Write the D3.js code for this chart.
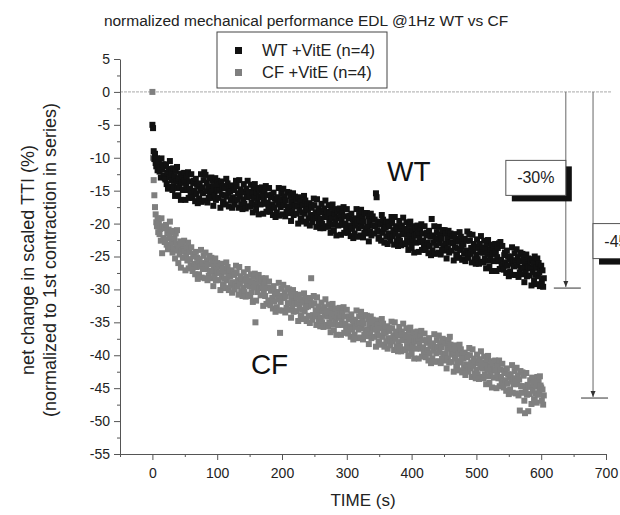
<!DOCTYPE html>
<html>
<head>
<meta charset="utf-8">
<script src="https://cdn.jsdelivr.net/npm/d3@7"></script>
<style>
  body { margin: 0; background: #fff; }
  svg { display: block; font-family: "Liberation Sans", Arial, sans-serif; }
  .axis path, .axis line { stroke: #555; }
  .axis text { fill: #222; font-size: 14px; }
</style>
</head>
<body>
<svg id="chart" width="620" height="515"></svg>
<script>
// recorded at 1 Hz: value i is the contraction at i seconds
var sampleInterval = 1;

// WT +VitE, net change (%), one row = 10 s
var wtValues = [
    -5.0, -5.5, -9.0, -10.2, -9.4, -10.8, -11.3, -10.1, -11.9, -11.0,
    -10.7, -12.1, -11.5, -13.0, -10.1, -11.8, -11.0, -12.7, -11.3, -13.1,
    -13.3, -11.0, -14.0, -12.3, -14.7, -11.7, -13.0, -10.5, -14.4, -12.2,
    -13.4, -14.9, -11.6, -14.3, -12.8, -15.8, -12.0, -13.6, -11.4, -14.6,
    -15.7, -13.1, -14.4, -12.4, -16.4, -13.8, -12.8, -14.9, -13.7, -12.3,
    -13.5, -16.4, -14.3, -12.9, -14.9, -12.2, -16.1, -13.6, -14.7, -15.6,
    -12.5, -15.4, -16.1, -13.9, -13.5, -15.0, -16.6, -13.2, -15.5, -14.1,
    -16.9, -14.3, -16.2, -13.9, -15.0, -12.5, -16.7, -14.5, -15.4, -13.4,
    -12.2, -16.5, -12.6, -15.1, -13.8, -16.8, -14.4, -16.1, -13.1, -15.4,
    -16.1, -13.0, -15.1, -13.5, -17.3, -14.3, -15.8, -13.1, -16.4, -14.9,
    -13.5, -14.9, -16.1, -14.0, -15.0, -17.6, -13.6, -15.6, -14.3, -16.9,
    -16.6, -15.7, -14.6, -17.1, -13.2, -15.9, -13.9, -15.3, -17.4, -14.5,
    -15.1, -16.5, -14.2, -17.6, -16.0, -14.5, -14.9, -17.1, -16.4, -13.5,
    -14.3, -16.3, -15.4, -17.6, -13.4, -15.9, -14.8, -17.1, -15.2, -17.8,
    -16.3, -14.0, -17.0, -15.3, -17.7, -14.7, -16.0, -13.5, -17.4, -15.2,
    -15.9, -17.4, -14.1, -16.8, -15.3, -18.3, -14.5, -16.1, -14.0, -17.1,
    -17.9, -15.3, -16.6, -14.6, -18.6, -16.0, -15.0, -17.1, -15.9, -14.5,
    -15.6, -18.5, -16.4, -15.0, -17.0, -14.3, -18.2, -15.7, -16.8, -17.7,
    -14.6, -17.5, -18.2, -16.0, -15.6, -17.1, -18.7, -15.3, -17.6, -16.2,
    -19.0, -16.4, -18.3, -16.0, -17.1, -14.6, -18.8, -16.6, -17.5, -15.5,
    -16.4, -18.6, -14.7, -17.2, -15.9, -18.9, -16.5, -18.2, -15.2, -17.5,
    -18.4, -15.3, -17.4, -15.8, -19.6, -16.6, -18.1, -15.4, -18.7, -17.2,
    -15.9, -17.3, -18.5, -16.4, -17.4, -20.0, -16.0, -18.0, -16.7, -19.3,
    -19.2, -18.3, -17.2, -19.7, -15.8, -18.5, -16.5, -17.9, -20.0, -17.1,
    -17.8, -19.2, -16.9, -20.3, -18.7, -17.2, -17.6, -19.8, -19.1, -16.2,
    -17.2, -19.2, -18.3, -20.5, -16.3, -18.8, -17.7, -20.0, -18.1, -20.7,
    -19.3, -17.0, -20.0, -18.3, -20.7, -17.7, -19.0, -16.5, -20.4, -18.2,
    -19.0, -20.5, -17.2, -19.9, -18.4, -21.4, -17.6, -19.2, -17.1, -20.2,
    -21.1, -18.5, -19.8, -17.8, -21.8, -19.2, -18.2, -20.3, -19.1, -17.7,
    -18.8, -21.7, -19.6, -18.2, -20.2, -17.5, -21.4, -18.9, -20.0, -20.9,
    -17.8, -20.7, -21.4, -19.2, -18.8, -20.3, -21.9, -18.5, -20.8, -19.4,
    -22.2, -19.6, -21.5, -19.2, -20.3, -17.8, -22.0, -19.8, -20.7, -18.7,
    -19.6, -21.8, -17.9, -20.4, -19.1, -22.1, -19.7, -21.4, -18.4, -20.7,
    -21.5, -18.4, -20.5, -18.9, -22.7, -19.7, -21.2, -18.5, -21.8, -20.3,
    -18.9, -20.3, -21.5, -19.4, -20.4, -15.4, -16.0, -21.0, -19.7, -22.3,
    -22.1, -21.2, -20.1, -22.6, -18.7, -21.4, -19.4, -20.8, -22.9, -20.0,
    -20.6, -22.0, -19.7, -23.1, -21.5, -20.0, -20.4, -22.6, -21.9, -19.0,
    -19.9, -21.9, -21.0, -23.2, -19.0, -21.5, -20.4, -22.7, -20.8, -23.4,
    -21.9, -19.6, -22.6, -20.9, -23.3, -20.3, -21.6, -19.1, -23.0, -20.8,
    -21.6, -23.1, -19.8, -22.5, -21.0, -24.0, -20.2, -21.8, -19.7, -22.8,
    -23.7, -21.1, -22.4, -20.4, -24.4, -21.8, -20.8, -22.9, -21.7, -20.3,
    -21.4, -24.3, -22.2, -20.8, -22.8, -20.1, -24.0, -21.5, -22.6, -23.5,
    -20.4, -23.3, -24.0, -21.8, -21.4, -22.9, -24.5, -21.1, -23.4, -22.0,
    -24.8, -19.3, -24.1, -21.8, -22.9, -20.4, -24.6, -22.4, -23.3, -21.3,
    -22.2, -24.4, -20.5, -23.0, -21.7, -24.7, -22.3, -24.0, -21.0, -23.3,
    -24.1, -21.0, -23.1, -21.5, -25.3, -22.3, -23.8, -21.1, -24.4, -22.9,
    -21.5, -22.9, -24.1, -22.0, -23.0, -25.6, -21.6, -23.6, -22.3, -24.9,
    -24.7, -23.8, -22.7, -25.2, -21.3, -24.0, -22.0, -23.4, -25.5, -22.6,
    -23.2, -24.6, -22.3, -25.7, -24.1, -22.6, -21.2, -25.2, -24.5, -21.6,
    -22.6, -24.6, -23.7, -25.9, -21.7, -24.2, -23.1, -25.4, -23.5, -26.1,
    -24.7, -22.4, -25.4, -23.7, -26.1, -23.1, -24.4, -21.9, -25.8, -23.6,
    -24.4, -25.9, -22.6, -25.3, -23.8, -26.8, -23.0, -24.6, -22.5, -25.6,
    -26.5, -23.9, -25.2, -23.2, -27.2, -24.6, -23.6, -25.7, -24.5, -23.1,
    -24.3, -27.2, -25.1, -23.7, -25.7, -23.0, -26.9, -22.8, -25.5, -26.4,
    -23.4, -26.3, -27.0, -24.8, -24.4, -25.9, -27.5, -24.1, -26.4, -25.0,
    -28.0, -25.4, -27.3, -25.0, -26.1, -23.6, -27.8, -25.6, -26.5, -24.5,
    -25.6, -27.8, -23.9, -26.4, -25.1, -28.1, -25.7, -27.4, -24.4, -26.7,
    -27.7, -24.6, -26.7, -25.1, -28.9, -25.9, -27.4, -24.7, -28.0, -26.5,
    -25.3, -26.7, -27.9, -25.8, -26.8, -29.4, -25.4, -27.4, -26.1, -28.7,
    -25.0, -27.8, -26.7, -29.2, -25.3, -28.0, -26.0, -27.4, -29.5, -26.6,
    -26.4, -28.8, -27.1, -29.6, -28.3
];

// CF +VitE, net change (%), one row = 10 s
var cfValues = [
    0.0, -10.0, -13.4, -15.7, -17.5, -18.6, -19.8, -20.4, -19.2, -21.3,
    -20.0, -21.6, -20.8, -22.6, -19.2, -24.5, -20.4, -22.2, -20.7, -22.8,
    -22.5, -20.2, -23.2, -21.5, -23.9, -20.9, -22.2, -19.7, -23.6, -21.4,
    -22.9, -24.4, -21.1, -23.8, -22.3, -25.3, -21.5, -23.1, -21.0, -24.1,
    -26.0, -23.4, -24.7, -22.7, -26.7, -24.1, -23.1, -25.2, -24.0, -22.6,
    -24.2, -27.1, -25.0, -23.6, -25.6, -22.9, -26.8, -24.3, -25.4, -26.3,
    -23.6, -26.5, -27.2, -25.0, -24.6, -26.1, -27.7, -24.3, -26.6, -25.2,
    -28.4, -25.8, -27.7, -25.4, -26.5, -24.0, -28.2, -26.0, -26.9, -24.9,
    -26.1, -28.3, -24.4, -26.9, -25.6, -28.6, -26.2, -27.9, -24.9, -27.2,
    -28.3, -25.2, -27.3, -25.7, -29.5, -26.5, -28.0, -25.3, -28.6, -27.1,
    -26.0, -27.4, -28.6, -26.5, -27.5, -30.1, -26.1, -28.1, -26.8, -29.4,
    -29.3, -28.4, -27.3, -29.8, -25.9, -28.6, -26.6, -28.0, -30.1, -27.2,
    -28.0, -29.4, -27.1, -30.5, -28.9, -27.4, -27.8, -30.0, -29.3, -26.4,
    -27.5, -29.5, -28.6, -30.8, -26.6, -29.1, -28.0, -30.3, -28.4, -31.0,
    -29.7, -27.4, -30.4, -28.7, -31.1, -28.1, -29.4, -26.9, -30.8, -28.6,
    -29.5, -31.0, -27.7, -30.4, -28.9, -31.9, -28.1, -29.7, -27.6, -35.0,
    -31.7, -29.1, -30.4, -28.4, -27.8, -29.8, -28.8, -30.9, -29.7, -28.3,
    -29.6, -32.5, -30.4, -29.0, -31.0, -28.3, -32.2, -29.7, -29.8, -31.7,
    -28.8, -31.7, -32.4, -30.2, -29.8, -31.3, -32.9, -29.5, -31.8, -30.4,
    -33.4, -30.8, -32.7, -30.4, -31.5, -29.0, -33.2, -36.6, -31.9, -29.9,
    -31.0, -33.2, -29.3, -31.3, -30.5, -33.5, -31.1, -32.8, -29.8, -32.1,
    -33.1, -30.0, -32.1, -30.5, -34.3, -31.3, -32.8, -30.1, -33.4, -31.9,
    -30.7, -32.1, -33.3, -31.2, -32.2, -34.8, -30.8, -32.8, -31.5, -34.1,
    -34.0, -33.1, -32.0, -34.5, -30.6, -33.3, -31.3, -32.7, -34.8, -31.9,
    -32.6, -34.0, -31.7, -35.1, -31.3, -28.3, -32.4, -34.6, -33.9, -31.0,
    -32.1, -34.1, -33.2, -35.4, -31.2, -33.7, -32.6, -34.9, -33.0, -35.6,
    -34.3, -32.0, -35.0, -33.3, -35.7, -32.7, -34.0, -31.5, -35.4, -33.2,
    -34.1, -35.6, -32.3, -35.0, -33.5, -36.5, -32.7, -34.3, -32.2, -35.3,
    -36.2, -33.6, -34.9, -32.9, -36.9, -34.3, -33.3, -35.4, -34.2, -32.8,
    -34.0, -36.9, -34.8, -33.4, -35.4, -32.7, -36.6, -34.1, -35.2, -36.1,
    -33.1, -36.0, -36.7, -34.5, -34.1, -35.6, -37.2, -33.8, -36.1, -34.7,
    -37.6, -35.0, -36.9, -34.6, -35.7, -33.2, -37.4, -35.2, -36.1, -34.1,
    -35.1, -37.3, -33.4, -35.9, -34.6, -37.6, -35.2, -36.9, -33.9, -36.2,
    -37.1, -34.0, -36.1, -34.5, -38.3, -35.3, -36.8, -34.1, -37.4, -35.9,
    -34.6, -36.0, -37.2, -35.1, -36.1, -38.7, -34.7, -36.7, -35.4, -38.0,
    -37.9, -37.0, -35.9, -38.4, -34.5, -37.2, -35.2, -36.6, -38.7, -35.8,
    -36.5, -37.9, -35.6, -39.0, -37.4, -35.9, -36.3, -38.5, -37.8, -34.9,
    -35.9, -37.9, -37.0, -39.2, -35.0, -37.5, -36.4, -38.7, -36.8, -39.4,
    -38.0, -35.7, -38.7, -37.0, -39.4, -36.4, -37.7, -35.2, -39.1, -36.9,
    -37.7, -39.2, -35.9, -38.6, -37.1, -40.1, -36.3, -37.9, -35.8, -38.9,
    -39.8, -37.2, -38.5, -36.5, -40.5, -37.9, -36.9, -39.0, -37.8, -36.4,
    -37.6, -40.5, -38.4, -37.0, -39.0, -36.3, -40.2, -37.7, -38.8, -39.7,
    -36.7, -39.6, -40.3, -38.1, -37.7, -39.2, -40.8, -37.4, -39.7, -38.3,
    -41.2, -38.6, -40.5, -38.2, -39.3, -36.8, -41.0, -38.8, -39.7, -37.7,
    -38.7, -40.9, -37.0, -39.5, -38.2, -41.2, -38.8, -40.5, -37.5, -39.8,
    -40.8, -37.7, -39.8, -38.2, -42.0, -39.0, -40.5, -37.8, -41.1, -37.2,
    -38.4, -39.8, -41.0, -38.9, -39.9, -42.5, -38.5, -40.5, -39.2, -41.8,
    -41.8, -40.9, -39.8, -42.3, -38.4, -41.1, -39.1, -40.5, -42.6, -39.7,
    -40.5, -41.9, -39.6, -43.0, -41.4, -39.9, -40.3, -42.5, -41.8, -38.9,
    -40.0, -42.0, -41.1, -43.3, -39.1, -41.6, -40.5, -42.8, -40.9, -43.5,
    -42.2, -39.9, -42.9, -41.2, -43.6, -40.6, -41.9, -39.4, -43.3, -41.1,
    -42.0, -43.5, -40.2, -42.9, -41.4, -44.4, -40.7, -42.2, -40.1, -43.2,
    -44.2, -41.6, -42.9, -40.9, -44.9, -42.3, -41.3, -43.4, -42.2, -40.8,
    -42.1, -45.0, -42.9, -41.5, -43.5, -40.8, -44.7, -42.2, -43.3, -44.2,
    -41.3, -44.2, -44.9, -42.7, -42.3, -43.8, -45.4, -42.0, -44.3, -42.9,
    -45.9, -43.3, -45.2, -42.9, -44.0, -41.5, -45.7, -43.5, -44.4, -42.4,
    -43.6, -45.8, -41.9, -44.4, -43.1, -46.1, -43.7, -48.4, -42.4, -44.7,
    -45.7, -42.6, -44.7, -43.1, -46.9, -48.8, -45.4, -42.7, -46.0, -44.5,
    -48.5, -44.7, -45.9, -43.8, -44.8, -47.4, -43.4, -45.4, -44.1, -46.7,
    -46.7, -45.8, -44.7, -47.2, -43.3, -46.0, -44.0, -45.4, -43.2, -44.6,
    -44.9, -46.9, -45.2, -47.5, -46.1
];

var legendLabels = ["WT +VitE (n=4)", "CF +VitE (n=4)"];
var xTicks = [0, 100, 200, 300, 400, 500, 600, 700];
var yTicks = [5, 0, -5, -10, -15, -20, -25, -30, -35, -40, -45, -50, -55];

// drop annotations: time of arrow, end value, text
var dropTimes = [638, 680];
var dropEnds = [-29.8, -46.5];
var dropText = ["-30%", "-45%"];

var svg = d3.select("#chart");
var width = 620, height = 515;

svg.append("rect").attr("width", width).attr("height", height).attr("fill", "#fff");

var xScale = d3.scaleLinear().domain([-50, 700]).range([120, 606]);
var yScale = d3.scaleLinear().domain([5, -55]).range([59, 454]);

var colors = ["#111111", "#7f7f7f"];
var markerSize = 6;

// title
svg.append("text")
    .attr("x", 306)
    .attr("y", 26)
    .attr("text-anchor", "middle")
    .attr("font-size", 15.5)
    .attr("fill", "#222")
    .text("normalized mechanical performance EDL @1Hz WT vs CF");

// zero line
svg.append("line")
    .attr("x1", xScale(-50))
    .attr("x2", 612)
    .attr("y1", yScale(0))
    .attr("y2", yScale(0))
    .attr("stroke", "#aaa")
    .attr("stroke-dasharray", "3,1");

// axes
svg.append("g")
    .attr("class", "axis axis--x")
    .attr("transform", "translate(0," + yScale(-55) + ")")
    .call(d3.axisBottom(xScale).tickValues(xTicks).tickSize(6).tickSizeOuter(0).tickPadding(8));

svg.append("g")
    .attr("class", "axis minor")
    .attr("transform", "translate(0," + yScale(-55) + ")")
    .call(d3.axisBottom(xScale).tickValues([-50, 50, 150, 250, 350, 450, 550, 650]).tickSize(3).tickFormat(""))
    .select(".domain").remove();

var yAxis = svg.append("g")
    .attr("class", "axis axis--y")
    .attr("transform", "translate(" + xScale(-50) + ",0)")
    .call(d3.axisLeft(yScale).tickValues(yTicks).tickSize(6).tickSizeOuter(0).tickPadding(4));

svg.append("g")
    .attr("class", "axis minor")
    .attr("transform", "translate(" + xScale(-50) + ",0)")
    .call(d3.axisLeft(yScale).tickValues(yTicks.slice(1).map(function(d) { return d + 2.5; })).tickSize(3).tickFormat(""))
    .select(".domain").remove();

yAxis.selectAll("text").text(function(d) { return d; });

// axis titles
svg.append("text")
    .attr("x", (xScale.range()[0] + xScale.range()[1]) / 2)
    .attr("y", 506)
    .attr("text-anchor", "middle")
    .attr("font-size", 17)
    .attr("fill", "#222")
    .text("TIME (s)");

var yTitle = svg.append("text")
    .attr("transform", "translate(34,260) rotate(-90)")
    .attr("text-anchor", "middle")
    .attr("font-size", 18)
    .attr("fill", "#222");
yTitle.append("tspan").attr("x", 0).attr("y", 0).text("net change in scaled TTI (%)");
yTitle.append("tspan").attr("x", 0).attr("y", 22).text("(normalized to 1st contraction in series)");

// points, CF underneath WT
var series = [cfValues, wtValues];
var seriesColors = [colors[1], colors[0]];
series.forEach(function(values, si) {
    svg.append("g")
        .selectAll("rect")
        .data(values)
        .enter().append("rect")
        .attr("x", function(d, i) { return xScale(i * sampleInterval) - markerSize / 2; })
        .attr("y", function(d) { return yScale(d) - markerSize / 2; })
        .attr("width", markerSize)
        .attr("height", markerSize)
        .attr("fill", seriesColors[si]);
});

// group labels
svg.append("text")
    .attr("x", xScale(362))
    .attr("y", yScale(-13.5))
    .attr("font-size", 28)
    .attr("fill", "#111")
    .text("WT");

svg.append("text")
    .attr("x", xScale(152))
    .attr("y", yScale(-42.8))
    .attr("font-size", 28)
    .attr("fill", "#111")
    .text("CF");

// drop annotations
var drops = svg.append("g").attr("class", "drops");
dropTimes.forEach(function(t, i) {
    var x = xScale(t);
    var yEnd = yScale(dropEnds[i]);
    drops.append("line")
        .attr("x1", x).attr("x2", x)
        .attr("y1", yScale(0)).attr("y2", yEnd - 1)
        .attr("stroke", "#666");
    drops.append("path")
        .attr("d", "M" + (x - 2.5) + "," + (yEnd - 7) + "L" + (x + 2.5) + "," + (yEnd - 7) + "L" + x + "," + (yEnd - 1) + "Z")
        .attr("fill", "#333");
    drops.append("line")
        .attr("x1", x - 12).attr("x2", x + 15)
        .attr("y1", yEnd).attr("y2", yEnd)
        .attr("stroke", "#777")
        .attr("stroke-width", 1.5);
});

// label boxes with drop shadow
var boxX = [xScale(dropTimes[0]) - 60, xScale(dropTimes[1])];
var boxV = [-10.4, -20];
dropText.forEach(function(txt, i) {
    var bx = boxX[i], by = yScale(boxV[i]);
    drops.append("rect")
        .attr("x", bx + 6).attr("y", by + 6)
        .attr("width", 60).attr("height", 35)
        .attr("fill", "#111");
    drops.append("rect")
        .attr("x", bx).attr("y", by)
        .attr("width", 60).attr("height", 35)
        .attr("fill", "#fff")
        .attr("stroke", "#555");
    drops.append("text")
        .attr("x", bx + 30).attr("y", by + 23)
        .attr("text-anchor", "middle")
        .attr("font-size", 16)
        .attr("fill", "#222")
        .text(txt);
});

// legend
var legend = svg.append("g").attr("class", "legend");
legend.append("rect")
    .attr("x", 217).attr("y", 32)
    .attr("width", 170).attr("height", 56)
    .attr("fill", "#fff")
    .attr("stroke", "#444");
legend.selectAll(".key")
    .data(legendLabels)
    .enter().append("rect")
    .attr("x", 235)
    .attr("y", function(d, i) { return 47 + i * 22; })
    .attr("width", 7).attr("height", 7)
    .attr("fill", function(d, i) { return colors[i]; });
legend.selectAll(".lbl")
    .data(legendLabels)
    .enter().append("text")
    .attr("x", 262)
    .attr("y", function(d, i) { return 56 + i * 22; })
    .attr("font-size", 16.5)
    .attr("fill", "#222")
    .text(function(d) { return d; });
</script>
</body>
</html>
